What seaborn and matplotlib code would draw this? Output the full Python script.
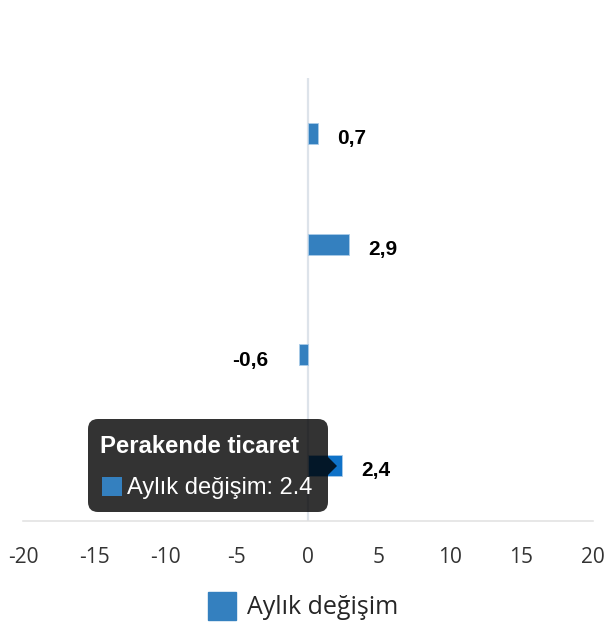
import matplotlib
matplotlib.use("Agg")
import matplotlib.pyplot as plt
import seaborn as sns
import pandas as pd
from matplotlib.patches import FancyBboxPatch, Polygon, Rectangle
from matplotlib.lines import Line2D
from matplotlib.transforms import IdentityTransform

# ---- data ----
categories = ["Sanayi üretimi", "Hizmet üretimi", "İnşaat", "Perakende ticaret"]
values = [0.7, 2.9, -0.6, 2.4]
series_name = "Aylık değişim"
x_ticks = [-20, -15, -10, -5, 0, 5, 10, 15, 20]
tooltip_index = 3

BAR = "#3480bf"
BAR_HOVER = "#0f72c8"

sns.set_theme(style="white")
plt.rcParams["font.family"] = ["Open Sans", "DejaVu Sans"]

W, H = 610, 640
fig = plt.figure(figsize=(W / 100, H / 100), dpi=100)
ax = fig.add_axes([23 / W, 1 - 521 / H, 569.5 / W, 443 / H])

df = pd.DataFrame({"cat": categories, "val": values})
palette = {c: (BAR_HOVER if i == tooltip_index else BAR) for i, c in enumerate(categories)}
sns.barplot(data=df, x="val", y="cat", hue="cat", palette=palette, orient="h",
            width=0.19, legend=False, ax=ax, saturation=1,
            edgecolor="#a9cbe8", linewidth=0.6)

ax.set_xlim(-20, 20)
ax.set_ylim(3.5, -0.5)
ax.set_xticks(x_ticks)
ax.set_xticklabels([str(t) for t in x_ticks], fontsize=15, color="#333333",
                   family=["Open Sans", "DejaVu Sans"])
ax.tick_params(axis="x", length=0, pad=19)
ax.set_yticks([])
ax.set_xlabel("")
ax.set_ylabel("")
for s in ["top", "right", "left"]:
    ax.spines[s].set_visible(False)
ax.spines["bottom"].set_color("#e0e0e0")
ax.spines["bottom"].set_linewidth(1.1)
ax.axvline(0, color="#dde3ea", lw=1.6, zorder=0.5)

# data labels
for i, v in enumerate(values):
    lab = f"{v:.1f}".replace(".", ",")
    if v >= 0:
        ax.annotate(lab, (v, i), xytext=(14, -7.5), textcoords="offset points",
                    ha="left", va="baseline", fontsize=15, fontweight="bold",
                    color="black", family=["Liberation Sans", "DejaVu Sans"])
    else:
        ax.annotate(lab, (v, i), xytext=(-22, -8), textcoords="offset points",
                    ha="right", va="baseline", fontsize=15, fontweight="bold",
                    color="black", family=["Liberation Sans", "DejaVu Sans"])

# legend
handle = Line2D([], [], marker="s", ls="none", color=BAR, markersize=19.5)
fig.legend([handle], [series_name], loc="center", bbox_to_anchor=(303 / W, 1 - 608 / H),
           frameon=False, fontsize=18, handlelength=1.1, handletextpad=0.45,
           prop={"family": ["Open Sans", "DejaVu Sans"], "size": 18})

# tooltip (pixel coordinates, origin top-left -> display)
def P(x, y):
    return (x, H - y)

idt = IdentityTransform()
box = FancyBboxPatch(P(88, 512), 240, 93, boxstyle="round,pad=0,rounding_size=10",
                     transform=idt, facecolor=(0, 0, 0, 0.8), edgecolor="none",
                     zorder=10)
fig.patches.append(box)
tri = Polygon([P(328, 457), P(337, 466), P(328, 475)], closed=True, transform=idt,
              facecolor=(0, 0, 0, 0.8), edgecolor="none", zorder=10)
fig.patches.append(tri)
sw = Rectangle(P(102, 496), 20, 19, transform=idt, facecolor=BAR, edgecolor="none",
               zorder=11)
fig.patches.append(sw)
fig.text(*P(100, 453), categories[tooltip_index], transform=idt, color="white",
         fontsize=17.2, fontweight="bold", va="baseline", ha="left", zorder=12,
         family=["Liberation Sans", "DejaVu Sans"])
fig.text(*P(127, 494), f"{series_name}: {values[tooltip_index]}", transform=idt,
         color="white", fontsize=17, va="baseline", ha="left", zorder=12,
         family=["Liberation Sans", "DejaVu Sans"])

fig.savefig("out.png", dpi=100)
